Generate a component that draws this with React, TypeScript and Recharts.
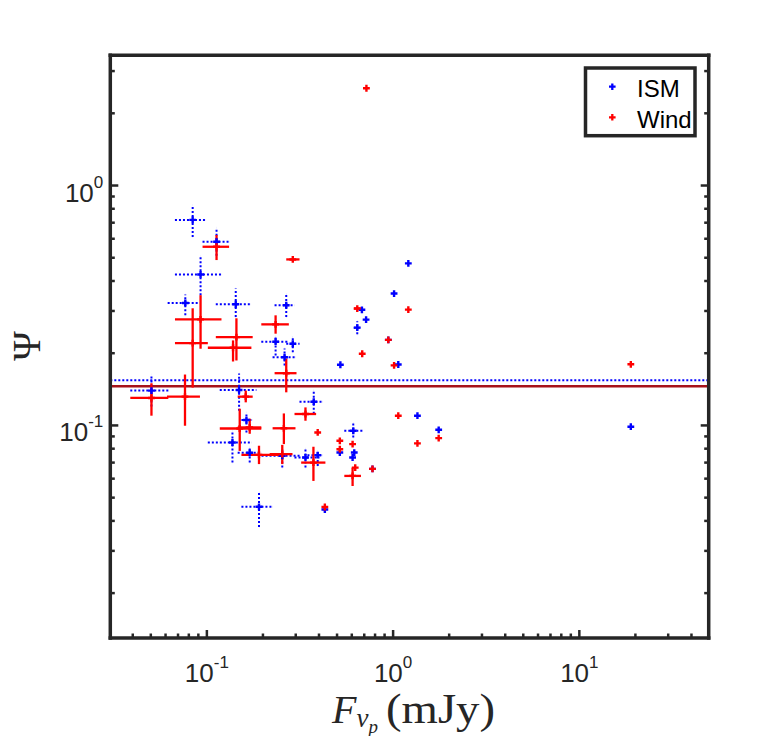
import React from 'react';
import { ScatterChart, Scatter, XAxis, YAxis, ErrorBar, ReferenceLine } from 'recharts';

// ISM fits with error bars: centre value, lower and upper bound
const ismFlux = [0.0839, 0.1127, 0.0925, 0.0766, 0.1429, 0.2668, 0.2339, 0.2893, 0.2613, 0.0504, 0.1489, 0.3749, 0.1631, 0.1372, 0.1698, 0.254, 0.3384, 0.3937, 0.1905, 0.611, 0.642];
const ismFluxLo = [0.0674, 0.0948, 0.0674, 0.0616, 0.1117, 0.231, 0.196, 0.2668, 0.2254, 0.0388, 0.1173, 0.3144, 0.1533, 0.1012, 0.1464, 0.1966, 0.2955, 0.3468, 0.1533, 0.547, 0.615];
const ismFluxHi = [0.0988, 0.1316, 0.1198, 0.091, 0.1713, 0.2955, 0.2721, 0.3144, 0.2991, 0.0621, 0.1844, 0.4173, 0.1762, 0.1734, 0.1966, 0.3144, 0.4022, 0.4173, 0.2246, 0.685, 0.67];
const ismPsi = [0.719, 0.583, 0.426, 0.324, 0.32, 0.317, 0.2234, 0.219, 0.1925, 0.1397, 0.1406, 0.1256, 0.1053, 0.0849, 0.0769, 0.0747, 0.0735, 0.0752, 0.0458, 0.095, 0.2556];
const ismPsiLo = [0.61, 0.51, 0.349, 0.288, 0.283, 0.283, 0.1957, 0.202, 0.1777, 0.12, 0.1152, 0.1119, 0.0935, 0.07, 0.07, 0.0667, 0.0667, 0.0678, 0.0377, 0.0891, 0.24];
const ismPsiHi = [0.83, 0.667, 0.508, 0.351, 0.372, 0.352, 0.235, 0.2334, 0.2094, 0.163, 0.1645, 0.1397, 0.1133, 0.095, 0.0809, 0.0809, 0.0799, 0.0783, 0.0524, 0.102, 0.272];

// Wind fits with error bars
const windFlux = [0.1127, 0.2339, 0.2668, 0.0925, 0.0839, 0.1441, 0.1382, 0.0504, 0.0763, 0.1617, 0.3384, 0.1501, 0.1698, 0.2591, 0.1905, 0.254, 0.3734, 0.606, 0.2893, 0.642];
const windFluxLo = [0.0948, 0.196, 0.231, 0.0674, 0.0674, 0.1117, 0.1012, 0.0388, 0.0611, 0.1464, 0.2955, 0.1173, 0.1464, 0.2254, 0.1533, 0.2173, 0.3209, 0.547, 0.2668, 0.615];
const windFluxHi = [0.1316, 0.2755, 0.3029, 0.1198, 0.1012, 0.1762, 0.1734, 0.0621, 0.0918, 0.1762, 0.386, 0.196, 0.196, 0.2991, 0.2509, 0.2883, 0.433, 0.672, 0.3144, 0.675];
const windPsi = [0.5556, 0.2638, 0.1651, 0.2768, 0.2203, 0.2334, 0.2108, 0.1302, 0.1318, 0.1318, 0.1116, 0.0971, 0.0981, 0.0973, 0.0754, 0.0759, 0.07, 0.0616, 0.492, 0.307];
const windPsiLo = [0.489, 0.2412, 0.1374, 0.2088, 0.1438, 0.1865, 0.1847, 0.1098, 0.0997, 0.1248, 0.1046, 0.0783, 0.0923, 0.0836, 0.069, 0.069, 0.0587, 0.0559, 0.492, 0.307];
const windPsiHi = [0.622, 0.2877, 0.19, 0.349, 0.3078, 0.2796, 0.2262, 0.1499, 0.163, 0.1397, 0.1189, 0.1174, 0.1067, 0.1122, 0.0823, 0.083, 0.0815, 0.0667, 0.492, 0.307];

// sources drawn as bare markers
const ismDotFlux = [0.521, 0.5175, 0.6186, 0.606, 0.775, 0.43, 1.207, 1.012, 0.68, 0.716, 0.9426, 1.066, 1.351, 1.757, 18.9];
const ismDotPsi = [0.179, 0.0771, 0.0771, 0.0735, 0.0659, 0.0446, 0.4735, 0.3546, 0.3034, 0.276, 0.2273, 0.1795, 0.1098, 0.0959, 0.0988];
const windDotFlux = [0.3937, 0.5175, 0.5175, 0.606, 0.626, 0.775, 0.43, 0.719, 1.207, 0.9426, 0.6825, 1.012, 1.066, 1.757, 1.351, 18.9];
const windDotPsi = [0.0935, 0.0863, 0.0796, 0.0836, 0.0667, 0.0659, 0.0457, 2.544, 0.304, 0.2273, 0.199, 0.178, 0.1098, 0.0885, 0.0842, 0.1798];

const ismMedian = 0.1544;
const windMedian = 0.1457;

const xTicks = [0.04, 0.05, 0.06, 0.07, 0.08, 0.09, 0.1, 0.2, 0.3, 0.4, 0.5, 0.6, 0.7, 0.8, 0.9, 1, 2, 3, 4, 5, 6, 7, 8, 9, 10, 20, 30, 40];
const yTicks = [0.02, 0.03, 0.04, 0.05, 0.06, 0.07, 0.08, 0.09, 0.1, 0.2, 0.3, 0.4, 0.5, 0.6, 0.7, 0.8, 0.9, 1, 2, 3];

const BLUE = '#0000ff';
const RED = '#ff0000';
const FRAME = '#262626';
const SANS = '"Liberation Sans", Arial, Helvetica, sans-serif';
const SERIF = '"Liberation Serif", "Times New Roman", serif';

const toRows = (x: number[], xl: number[], xh: number[], y: number[], yl: number[], yh: number[]) =>
  x.map((v, i) => ({ x: v, y: y[i], ex: [v - xl[i], xh[i] - v], ey: [y[i] - yl[i], yh[i] - y[i]] }));

const toDots = (x: number[], y: number[]) => x.map((v, i) => ({ x: v, y: y[i] }));

const ismRows = toRows(ismFlux, ismFluxLo, ismFluxHi, ismPsi, ismPsiLo, ismPsiHi);
const windRows = toRows(windFlux, windFluxLo, windFluxHi, windPsi, windPsiLo, windPsiHi);
const ismDots = toDots(ismDotFlux, ismDotPsi);
const windDots = toDots(windDotFlux, windDotPsi);

const plus = (color: string) => (props: any) => {
  const { cx, cy } = props;
  const r = 3.4;
  return <path d={`M${cx - r},${cy}H${cx + r}M${cx},${cy - r}V${cy + r}`} stroke={color} strokeWidth={2.4} fill="none" />;
};

// exponent if the value is a power of ten
const decade = (v: number) => {
  const l = Math.log10(v);
  return Math.abs(l - Math.round(l)) < 1e-6 ? Math.round(l) : null;
};

const Pow = ({ x, y, e, anchor }: { x: number; y: number; e: number; anchor: 'middle' | 'end' }) => (
  <text x={x} y={y} textAnchor={anchor} fontFamily={SANS} fontSize={26} fill={FRAME}>
    <tspan>10</tspan>
    <tspan dy={-14} fontSize={17}>{e < 0 ? '-' + Math.abs(e) : String(e)}</tspan>
  </text>
);

const BottomTick = (props: any) => {
  const { x, y, payload } = props;
  const e = decade(payload.value);
  const len = e === null ? 4.5 : 8;
  return (
    <g>
      <line x1={x} y1={y} x2={x} y2={y - len} stroke={FRAME} strokeWidth={2.5} />
      {e !== null && <Pow x={x} y={y + 44} e={e} anchor="middle" />}
    </g>
  );
};

const TopTick = (props: any) => {
  const { x, y, payload } = props;
  const len = decade(payload.value) === null ? 4.5 : 8;
  return <line x1={x} y1={y} x2={x} y2={y + len} stroke={FRAME} strokeWidth={2.5} />;
};

const LeftTick = (props: any) => {
  const { x, y, payload } = props;
  const e = decade(payload.value);
  const len = e === null ? 4.5 : 8;
  return (
    <g>
      <line x1={x} y1={y} x2={x + len} y2={y} stroke={FRAME} strokeWidth={2.5} />
      {e !== null && <Pow x={x - 7} y={y + 16} e={e} anchor="end" />}
    </g>
  );
};

const RightTick = (props: any) => {
  const { x, y, payload } = props;
  const len = decade(payload.value) === null ? 4.5 : 8;
  return <line x1={x} y1={y} x2={x - len} y2={y} stroke={FRAME} strokeWidth={2.5} />;
};

const frameLine = { stroke: FRAME, strokeWidth: 3.5, strokeLinecap: 'square' as const };

export default function App() {
  return (
    <div style={{ position: 'absolute', left: 0, top: 0, width: 783, height: 736, background: '#fff' }}>
      <ScatterChart width={783} height={736} margin={{ top: 54.3, right: 73.3, bottom: 97, left: 109.3 }}>
        <XAxis xAxisId="x" dataKey="x" type="number" scale="log" domain={[0.0303, 49.5]} allowDataOverflow
          ticks={xTicks} interval={0} height={1} tickSize={0} tickMargin={0} tick={<BottomTick />} axisLine={frameLine} />
        <XAxis xAxisId="top" orientation="top" type="number" scale="log" domain={[0.0303, 49.5]} allowDataOverflow
          ticks={xTicks} interval={0} height={1} tickSize={0} tickMargin={0} tick={<TopTick />} axisLine={frameLine} />
        <YAxis yAxisId="y" dataKey="y" type="number" scale="log" domain={[0.013, 3.49]} allowDataOverflow
          ticks={yTicks} interval={0} width={1} tickSize={0} tickMargin={0} tick={<LeftTick />} axisLine={frameLine} />
        <YAxis yAxisId="right" orientation="right" type="number" scale="log" domain={[0.013, 3.49]} allowDataOverflow
          ticks={yTicks} interval={0} width={1} tickSize={0} tickMargin={0} tick={<RightTick />} axisLine={frameLine} />

        <ReferenceLine xAxisId="x" yAxisId="y" y={ismMedian} stroke={BLUE} strokeWidth={2} strokeDasharray="2 2" />
        <ReferenceLine xAxisId="x" yAxisId="y" y={windMedian} stroke="#a6121a" strokeWidth={2.5} />

        <Scatter name="ISM" xAxisId="x" yAxisId="y" data={ismRows} shape={plus(BLUE)} isAnimationActive={false}>
          <ErrorBar dataKey="ex" direction="x" width={0} stroke={BLUE} strokeWidth={2} strokeDasharray="2 2" isAnimationActive={false} />
          <ErrorBar dataKey="ey" direction="y" width={0} stroke={BLUE} strokeWidth={2} strokeDasharray="2 2" isAnimationActive={false} />
        </Scatter>
        <Scatter name="ISM" xAxisId="x" yAxisId="y" data={ismDots} shape={plus(BLUE)} isAnimationActive={false} />
        <Scatter name="Wind" xAxisId="x" yAxisId="y" data={windRows} shape={plus(RED)} isAnimationActive={false}>
          <ErrorBar dataKey="ex" direction="x" width={0} stroke={RED} strokeWidth={2.3} isAnimationActive={false} />
          <ErrorBar dataKey="ey" direction="y" width={0} stroke={RED} strokeWidth={2.3} isAnimationActive={false} />
        </Scatter>
        <Scatter name="Wind" xAxisId="x" yAxisId="y" data={windDots} shape={plus(RED)} isAnimationActive={false} />
      </ScatterChart>

      <svg width={783} height={736} style={{ position: 'absolute', left: 0, top: 0, pointerEvents: 'none' }}>
        <rect x={585.5} y={68} width={109.5} height={67.7} fill="#fff" stroke={FRAME} strokeWidth={3.5} />
        <path d="M609,86.7H615.6M612.3,83.4V90" stroke={BLUE} strokeWidth={2.3} />
        <text x={637} y={96.5} fontFamily={SANS} fontSize={24} fill="#000">ISM</text>
        <path d="M609,117.3H615.6M612.3,114V120.6" stroke={RED} strokeWidth={2.3} />
        <text x={637} y={127.5} fontFamily={SANS} fontSize={24} fill="#000">Wind</text>

        <text transform="translate(26,346) rotate(-90)" textAnchor="middle" dominantBaseline="central"
          fontFamily={SERIF} fontSize={40} fill={FRAME}>Ψ</text>

        <text x={332} y={723} fontFamily={SERIF} fontSize={40} fill={FRAME}>
          <tspan fontStyle="italic">F</tspan>
          <tspan fontStyle="italic" fontSize={27} dy={4}>ν</tspan>
          <tspan fontStyle="italic" fontSize={19} dy={6}>p</tspan>
        </text>
        <text x={386} y={723} fontFamily={SERIF} fontSize={42} fill={FRAME} textLength={109} lengthAdjust="spacingAndGlyphs">(mJy)</text>
      </svg>
    </div>
  );
}
